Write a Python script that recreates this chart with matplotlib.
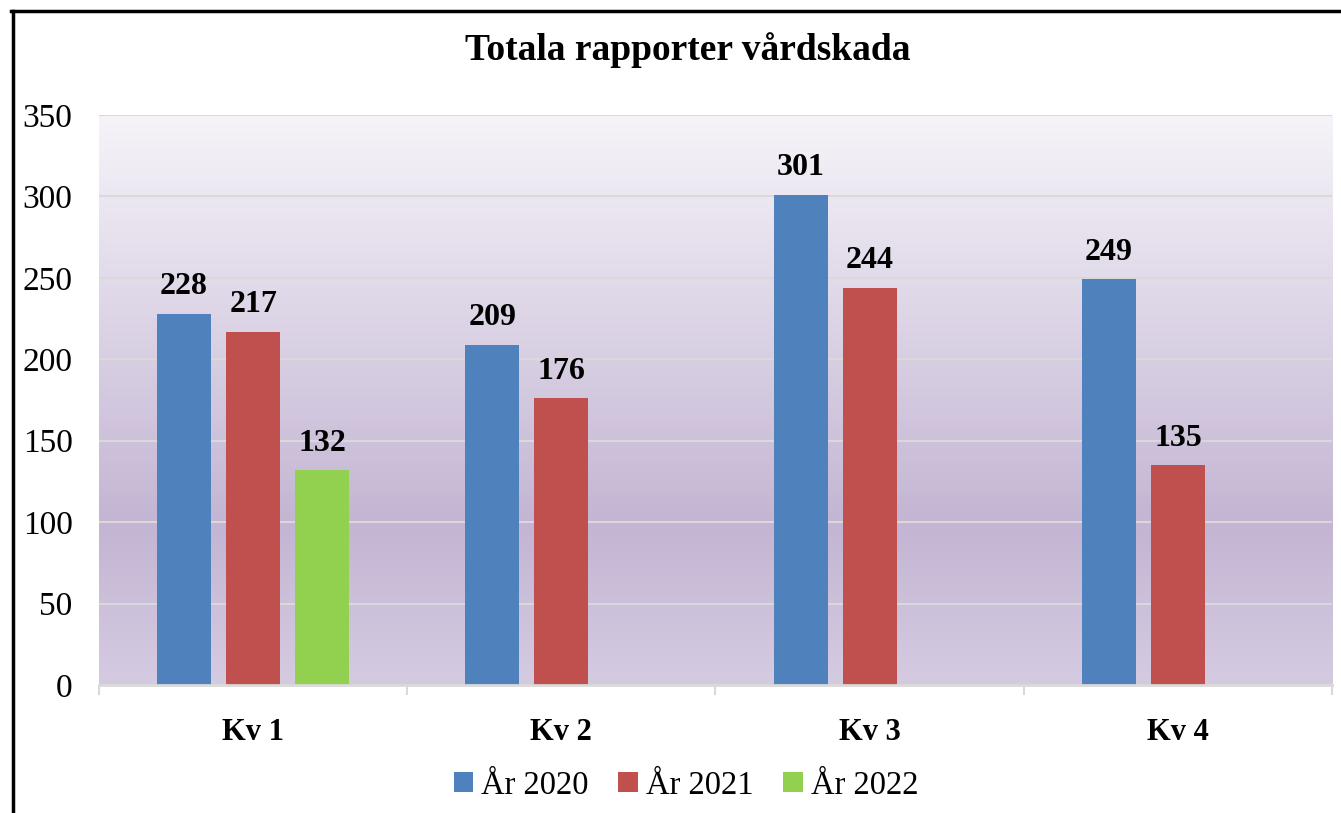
import matplotlib.pyplot as plt
import numpy as np
from matplotlib.colors import LinearSegmentedColormap
from matplotlib.lines import Line2D

plt.rcParams['font.family'] = ['Liberation Serif', 'DejaVu Serif']

categories = ['Kv 1', 'Kv 2', 'Kv 3', 'Kv 4']
series_names = ['År 2020', 'År 2021', 'År 2022']
values_2020 = [228, 209, 301, 249]
values_2021 = [217, 176, 244, 135]
values_2022 = [132, None, None, None]
colors = ['#4f81bd', '#c0504d', '#92d050']

fig = plt.figure(figsize=(13.41, 8.13), dpi=100)
ax = fig.add_axes([0.0738, 0.1574, 0.9195, 0.7012])

# background gradient of the plot area
cmap = LinearSegmentedColormap.from_list(
    'bg', [(0.0, '#d5cbe1'), (0.28, '#c3b5d3'), (1.0, '#f6f4f9')])
grad = np.linspace(0, 1, 256).reshape(-1, 1)
ax.imshow(grad, cmap=cmap, aspect='auto', origin='lower',
          extent=[0, 1, 0, 1], transform=ax.transAxes, zorder=0)

x = np.arange(len(categories))
width = 0.175
step = 0.224
all_series = [values_2020, values_2021, values_2022]
for i, (name, vals) in enumerate(zip(series_names, all_series)):
    xs = [xx + (i - 1) * step for xx, v in zip(x, vals) if v is not None]
    hs = [v for v in vals if v is not None]
    bars = ax.bar(xs, hs, width, color=colors[i], label=name, zorder=3)
    ax.bar_label(bars, padding=9, fontsize=23, fontweight='bold')

ax.set_xlim(-0.5, 3.5)
ax.set_ylim(0, 350)
ax.set_yticks(np.arange(0, 351, 50))
ax.yaxis.grid(True, color='#d9d9d9', linewidth=1.5, zorder=1)
ax.set_axisbelow(True)

ax.set_xticks(x)
ax.set_xticklabels(categories, fontsize=22, fontweight='bold')
ax.set_xticks(np.arange(-0.5, 3.6, 1), minor=True)
ax.tick_params(axis='x', which='major', length=0, pad=24)
ax.tick_params(axis='x', which='minor', length=7, width=1.5, color='#d9d9d9')
ax.tick_params(axis='y', length=0, pad=19, labelsize=24)

for s in ['left', 'right', 'top']:
    ax.spines[s].set_visible(False)
ax.spines['bottom'].set_color('#d9d9d9')
ax.spines['bottom'].set_linewidth(2)
ax.spines['bottom'].set_zorder(4)

fig.text(0.513, 0.939, 'Totala rapporter vårdskada', ha='center', va='center',
         fontsize=27, fontweight='bold')

fig.legend(loc='center', bbox_to_anchor=(0.5116, 0.034), ncol=3, frameon=False,
           fontsize=23.5, handlelength=0.6, handleheight=0.6, handletextpad=0.25,
           columnspacing=0.9)

# chart frame (left and top edges visible)
fig.add_artist(Line2D([0.0097, 0.0097], [0.0, 0.987], transform=fig.transFigure,
                      color='black', linewidth=2.5))
fig.add_artist(Line2D([0.0085, 1.0], [0.987, 0.987], transform=fig.transFigure,
                      color='black', linewidth=2.5))

fig.savefig('out.png', dpi=100)
